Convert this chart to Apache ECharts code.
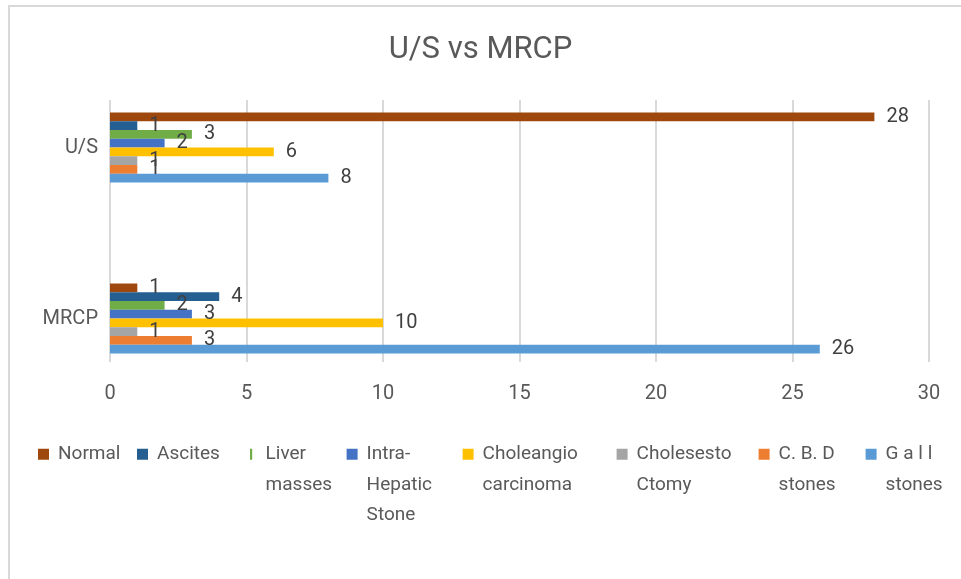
<!DOCTYPE html>
<html>
<head>
<meta charset="utf-8">
<script src="https://cdn.jsdelivr.net/npm/echarts@6/dist/echarts.min.js"></script>
<style>
body { margin: 0; background: #fff; }
#frame { position: absolute; left: 8px; top: 5px; width: 980px; height: 600px; border-left: 2px solid #d9d9d9; border-top: 2px solid #d9d9d9; }
#bar { position: absolute; left: 0; top: 0; width: 961px; height: 579px; }
</style>
</head>
<body>
<div id="frame"></div>
<div id="bar"></div>
<script>
var categories = ['MRCP', 'U/S'];
var xTicks = [0, 5, 10, 15, 20, 25, 30];

// values per series: [MRCP, U/S]
var normal = [1, 28];
var ascites = [4, 1];
var liverMasses = [2, 3];
var intraHepatic = [3, 2];
var choleangio = [10, 6];
var cholesesto = [1, 1];
var cbdStones = [3, 1];
var gallStones = [26, 8];

var names = ['Normal', 'Ascites', 'Liver\nmasses', 'Intra-\nHepatic\nStone', 'Choleangio\ncarcinoma', 'Cholesesto\nCtomy', 'C. B. D\nstones', 'G a l l\nstones'];
var values = [normal, ascites, liverMasses, intraHepatic, choleangio, cholesesto, cbdStones, gallStones];
var colors = ['#9e480e', '#255e91', '#70ad47', '#4472c4', '#ffc000', '#a5a5a5', '#ed7d31', '#5b9bd5'];
var textWidths = [75, 89, 77, 92, 130, 118, 83, 66];

var font = 'Roboto, "Noto Sans", sans-serif';

var myChart = echarts.init(document.getElementById('bar'));

var series = [];
// first series ends up on top of each group
for (var i = 0; i < names.length; i++) {
	series.push({
		name: names[i],
		type: 'bar',
		xAxisIndex: 0,
		yAxisIndex: 0,
		barWidth: 8.75,
		barGap: '0%',
		itemStyle: { color: colors[i] },
		label: {
			show: true,
			position: 'right',
			distance: 12,
			fontFamily: font,
			fontSize: 20,
			color: '#404040'
		},
		data: values[i]
	});
}

var legendData = names.map(function(n, i) {
	var item = { name: n, textStyle: { width: textWidths[i], padding: [0, 0, 0, 4] } };
	if (i === 2) item.icon = 'path://M0,0L2,0L2,10L0,10Z';
	return item;
});

option = {
	animation: false,
	title: {
		text: 'U/S vs MRCP',
		left: 'center',
		top: 30,
		textStyle: { fontFamily: font, fontSize: 31, fontWeight: 'normal', color: '#595959' }
	},
	legend: {
		left: 33,
		top: 373,
		orient: 'horizontal',
		itemWidth: 11,
		itemHeight: 11,
		itemGap: 4,
		icon: 'rect',
		data: legendData,
		// pad with blank lines above so the first line sits level with the icon
		formatter: function(name) {
			var lines = name.split('\n').length;
			return new Array(lines).join('\n') + name;
		},
		textStyle: { fontFamily: font, fontSize: 19, lineHeight: 30.5, color: '#595959' }
	},
	grid: [
		{ left: 110, right: 32, top: 62, height: 342 },
		{ left: 110, right: 32, top: 100, height: 262 }
	],
	xAxis: [
		{ gridIndex: 0, type: 'value', min: 0, max: 30, interval: 5, show: false, splitLine: { show: false } },
		{
			gridIndex: 1, type: 'value', min: xTicks[0], max: xTicks[xTicks.length - 1], interval: 5,
			axisLine: { show: false },
			axisTick: { show: false },
			axisLabel: { margin: 22, fontFamily: font, fontSize: 20, color: '#595959' },
			splitLine: { show: true, lineStyle: { color: '#d9d9d9', width: 2 } }
		}
	],
	yAxis: [
		{
			gridIndex: 0, type: 'category', data: categories,
			axisLine: { show: false },
			axisTick: { show: false },
			axisLabel: { margin: 12, fontFamily: font, fontSize: 20, color: '#595959' }
		},
		{ gridIndex: 1, type: 'category', data: categories, show: false }
	],
	series: series
};
myChart.setOption(option);
</script>
</body>
</html>
